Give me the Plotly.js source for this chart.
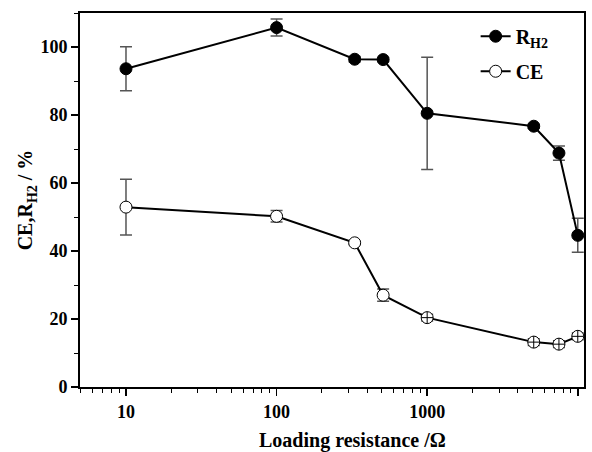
<!DOCTYPE html>
<html>
<head>
<meta charset="utf-8">
<script src="https://cdn.plot.ly/plotly-3.0.1.min.js"></script>
<style>html,body{margin:0;padding:0;background:#fff}#chart{width:592px;height:452px}</style>
</head>
<body>
<div id="chart"></div>
<script>
const resistance = [10, 100, 330, 510, 1000, 5100, 7500, 10000];
const rh2 = [93.6, 105.7, 96.4, 96.3, 80.5, 76.7, 68.8, 44.6];
const rh2Err = [6.5, 2.5, 0.8, 0.6, 16.5, 0.6, 2.1, 5.0];
const ce = [52.9, 50.2, 42.4, 27.0, 20.4, 13.2, 12.6, 14.9];
const ceErr = [8.2, 1.7, 0.5, 1.8, 1.0, 1.0, 1.0, 1.0];
const xTickVals = [10, 100, 1000, 10000];
const xTickText = ['10', '100', '1000', '1000'];
const xTitle = 'Loading resistance /Ω';
const yTitle = 'CE,R<sub>H2</sub> / %';

const serif = 'Liberation Serif, Times New Roman, serif';

const traces = [
  {
    x: resistance, y: rh2, name: 'R<sub>H2</sub>', type: 'scatter', mode: 'lines+markers',
    legendgroup: 'g1',
    line: {color: '#000', width: 2},
    marker: {symbol: 'circle', size: 12, color: '#000', line: {color: '#000', width: 1}},
    error_y: {type: 'data', array: rh2Err, visible: true, color: '#555', thickness: 1.5, width: 6}
  },
  {
    x: resistance, y: ce, name: 'CE', type: 'scatter', mode: 'lines+markers',
    legendgroup: 'g2',
    line: {color: '#000', width: 2},
    marker: {symbol: ['circle','circle','circle','circle','circle-cross','circle-cross','circle-cross','circle-cross'],
             size: 12, color: '#fff', line: {color: '#000', width: 1}},
    error_y: {type: 'data', array: ceErr, visible: true, color: '#555', thickness: 1.5, width: 6}
  }
];

const layout = {
  width: 592, height: 452,
  margin: {l: 80, r: 8, t: 13, b: 65},
  paper_bgcolor: '#fff', plot_bgcolor: '#fff',
  font: {family: serif, color: '#000'},
  showlegend: true,
  legend: {x: 0.785, y: 0.99, xanchor: 'left', yanchor: 'top', bgcolor: 'rgba(0,0,0,0)',
           tracegroupgap: 6,
           font: {family: serif, size: 20, color: '#000', weight: 'bold'}},
  xaxis: {
    type: 'log', range: [Math.log10(4.95), Math.log10(11000)],
    tickvals: xTickVals, ticktext: xTickText,
    ticks: 'outside', ticklen: 7, tickwidth: 1.5, tickcolor: '#000',
    showline: true, linewidth: 2, linecolor: '#000', mirror: true,
    showgrid: false, zeroline: false,
    tickfont: {family: serif, size: 18, color: '#000', weight: 'bold'},
    minor: {dtick: 'D1', ticks: 'outside', ticklen: 4, tickwidth: 1, tickcolor: '#000', showgrid: false}
  },
  yaxis: {
    range: [0, 110], tickvals: [0, 20, 40, 60, 80, 100],
    ticks: 'outside', ticklen: 7, tickwidth: 1.5, tickcolor: '#000',
    showline: true, linewidth: 2, linecolor: '#000', mirror: true,
    showgrid: false, zeroline: false,
    tickfont: {family: serif, size: 18, color: '#000', weight: 'bold'},
    minor: {dtick: 10, ticks: 'outside', ticklen: 4, tickwidth: 1, tickcolor: '#000', showgrid: false},
    title: {text: yTitle, font: {family: serif, size: 20, color: '#000', weight: 'bold'}, standoff: 2}
  },
  annotations: [{
    text: xTitle, xref: 'paper', yref: 'paper', x: 0.54, y: -0.142,
    xanchor: 'center', yanchor: 'middle', showarrow: false,
    font: {family: serif, size: 20, color: '#000', weight: 'bold'}
  }]
};

Plotly.newPlot('chart', traces, layout, {displayModeBar: false, staticPlot: true});
</script>
</body>
</html>
